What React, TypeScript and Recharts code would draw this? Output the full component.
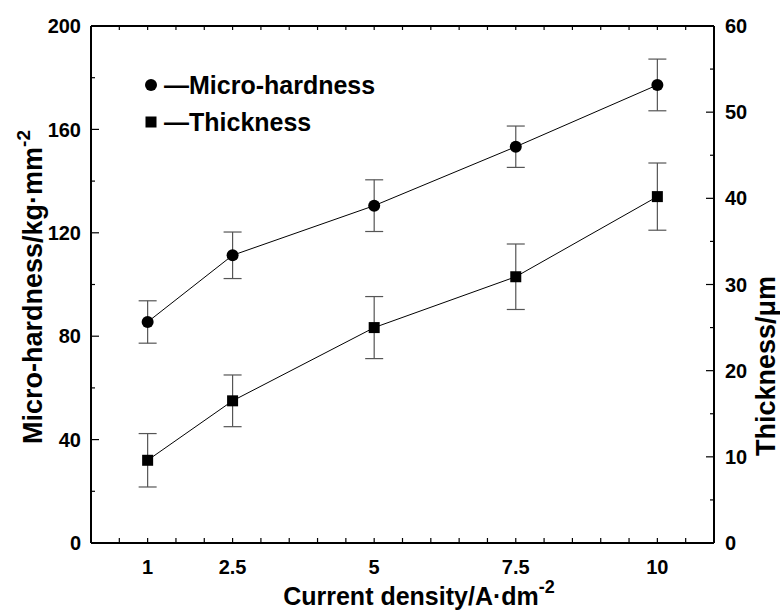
import React from "react";
import { ComposedChart, Line, XAxis, YAxis, ErrorBar } from "recharts";

const currentDensity = [1, 2.5, 5, 7.5, 10];
const hardness = [85.5, 111.3, 130.5, 153.3, 177.2];
const hardnessErr = [8.2, 9, 10, 8, 10];
const thickness = [9.6, 16.5, 25, 30.9, 40.2];
const thicknessErr = [3.1, 3, 3.6, 3.8, 3.9];

const xTicks = [0, 0.5, 1, 1.5, 2, 2.5, 3, 3.5, 4, 4.5, 5, 5.5, 6, 6.5, 7, 7.5, 8, 8.5, 9, 9.5, 10, 10.5, 11];
const xLabels = [1, 2.5, 5, 7.5, 10];
const leftTicks = [0, 20, 40, 60, 80, 100, 120, 140, 160, 180, 200];
const leftLabels = [0, 40, 80, 120, 160, 200];
const rightTicks = [0, 5, 10, 15, 20, 25, 30, 35, 40, 45, 50, 55, 60];
const rightLabels = [0, 10, 20, 30, 40, 50, 60];

const data = currentDensity.map((x, i) => ({
  x,
  h: hardness[i],
  hErr: hardnessErr[i],
  t: thickness[i],
  tErr: thicknessErr[i],
}));

const W = 780;
const H = 611;
// plot area: left 91, right 714, top 26, bottom 543
const XB_H = 30;
const XT_H = 1;
const YL_W = 40;
const YR_W = 40;
const M = { top: 26 - XT_H, left: 91 - YL_W, right: W - 714 - YR_W, bottom: H - 543 - XB_H };
const FONT = "'Liberation Sans', Arial, Helvetica, sans-serif";

const BottomTick = (props: any) => {
  const { x, y, payload } = props;
  const v = payload.value;
  const show = xLabels.includes(v);
  const edge = v === 0 || v === 11;
  return (
    <g>
      {!edge && <line x1={x} x2={x} y1={y} y2={y - 5} stroke="#000" strokeWidth={1.2} />}
      {show && (
        <text x={x} y={y + 17} dy="0.71em" textAnchor="middle" fontFamily={FONT} fontWeight="bold" fontSize={20} fill="#000">
          {v}
        </text>
      )}
    </g>
  );
};

const TopTick = (props: any) => {
  const { x, y, payload } = props;
  const v = payload.value;
  if (v === 0 || v === 11) return <g />;
  return <line x1={x} x2={x} y1={y} y2={y + 4} stroke="#000" strokeWidth={1.2} />;
};

const LeftTick = (props: any) => {
  const { x, y, payload } = props;
  const v = payload.value;
  const major = leftLabels.includes(v);
  const edge = v === 0 || v === 200;
  return (
    <g>
      {!edge && <line x1={x} x2={x + (major ? 8 : 4)} y1={y} y2={y} stroke="#000" strokeWidth={1.2} />}
      {major && (
        <text x={x - 10} y={y} dy="0.355em" textAnchor="end" fontFamily={FONT} fontWeight="bold" fontSize={20} fill="#000">
          {v}
        </text>
      )}
    </g>
  );
};

const RightTick = (props: any) => {
  const { x, y, payload } = props;
  const v = payload.value;
  const major = rightLabels.includes(v);
  const edge = v === 0 || v === 60;
  return (
    <g>
      {!edge && <line x1={x} x2={x - (major ? 8 : 4)} y1={y} y2={y} stroke="#000" strokeWidth={1.2} />}
      {major && (
        <text x={x + 11} y={y} dy="0.355em" textAnchor="start" fontFamily={FONT} fontWeight="bold" fontSize={20} fill="#000">
          {v}
        </text>
      )}
    </g>
  );
};

const CircleDot = (props: any) => {
  const { cx, cy } = props;
  if (cx == null || cy == null) return <g />;
  return <circle cx={cx} cy={cy} r={6} fill="#000" />;
};

const SquareDot = (props: any) => {
  const { cx, cy } = props;
  if (cx == null || cy == null) return <g />;
  return <rect x={cx - 5.5} y={cy - 5.5} width={11} height={11} fill="#000" />;
};

const Titles = () => (
  <svg width={W} height={H} style={{ position: "absolute", left: 0, top: 0, pointerEvents: "none" }}>
    <text x={419} y={605} textAnchor="middle" fontFamily={FONT} fontWeight="bold" fontSize={25} fill="#000">
      Current density/A·dm
      <tspan dy={-12} fontSize={18}>-2</tspan>
    </text>
    <text
      transform="rotate(-90, 32, 287)"
      x={32}
      y={287}
      dy="0.355em"
      textAnchor="middle"
      fontFamily={FONT}
      fontWeight="bold"
      fontSize={27}
      fill="#000"
    >
      Micro-hardness/kg·mm
      <tspan dy={-12} fontSize={19}>-2</tspan>
    </text>
    <text
      transform="rotate(-90, 765, 366)"
      x={765}
      y={366}
      dy="0.355em"
      textAnchor="middle"
      fontFamily={FONT}
      fontWeight="bold"
      fontSize={27}
      fill="#000"
    >
      Thickness/μm
    </text>
    <g fontFamily={FONT} fontWeight="bold" fontSize={25} fill="#000">
      <circle cx={151} cy={85} r={6} fill="#000" />
      <text x={164} y={85} dy="0.355em">—Micro-hardness</text>
      <rect x={145.5} y={116.5} width={11} height={11} fill="#000" />
      <text x={164} y={122} dy="0.355em">—Thickness</text>
    </g>
  </svg>
);

export default function App() {
  return (
    <div style={{ position: "absolute", left: 0, top: 0, width: W, height: H, background: "#fff" }}>
      <ComposedChart width={W} height={H} data={data} margin={M}>
        <XAxis
          dataKey="x"
          type="number"
          domain={[0, 11]}
          ticks={xTicks}
          interval={0}
          height={XB_H}
          tickSize={0}
          tickMargin={0}
          tick={<BottomTick />}
          axisLine={{ stroke: "#000", strokeWidth: 2 }}
          tickLine={false}
        />
        <XAxis
          xAxisId="top"
          orientation="top"
          dataKey="x"
          type="number"
          domain={[0, 11]}
          ticks={xTicks}
          interval={0}
          height={XT_H}
          tickSize={0}
          tickMargin={0}
          tick={<TopTick />}
          axisLine={{ stroke: "#000", strokeWidth: 2 }}
          tickLine={false}
        />
        <YAxis
          yAxisId="left"
          type="number"
          domain={[0, 200]}
          ticks={leftTicks}
          interval={0}
          width={YL_W}
          tickSize={0}
          tickMargin={0}
          tick={<LeftTick />}
          axisLine={{ stroke: "#000", strokeWidth: 2 }}
          tickLine={false}
        />
        <YAxis
          yAxisId="right"
          orientation="right"
          type="number"
          domain={[0, 60]}
          ticks={rightTicks}
          interval={0}
          width={YR_W}
          tickSize={0}
          tickMargin={0}
          tick={<RightTick />}
          axisLine={{ stroke: "#000", strokeWidth: 2 }}
          tickLine={false}
        />
        <Line
          yAxisId="left"
          dataKey="h"
          stroke="#000"
          strokeWidth={1}
          dot={<CircleDot />}
          activeDot={false}
          isAnimationActive={false}
        >
          <ErrorBar dataKey="hErr" width={9} stroke="#555" strokeWidth={1.2} direction="y" />
        </Line>
        <Line
          yAxisId="right"
          dataKey="t"
          stroke="#000"
          strokeWidth={1}
          dot={<SquareDot />}
          activeDot={false}
          isAnimationActive={false}
        >
          <ErrorBar dataKey="tErr" width={9} stroke="#555" strokeWidth={1.2} direction="y" />
        </Line>
      </ComposedChart>
      <Titles />
    </div>
  );
}
